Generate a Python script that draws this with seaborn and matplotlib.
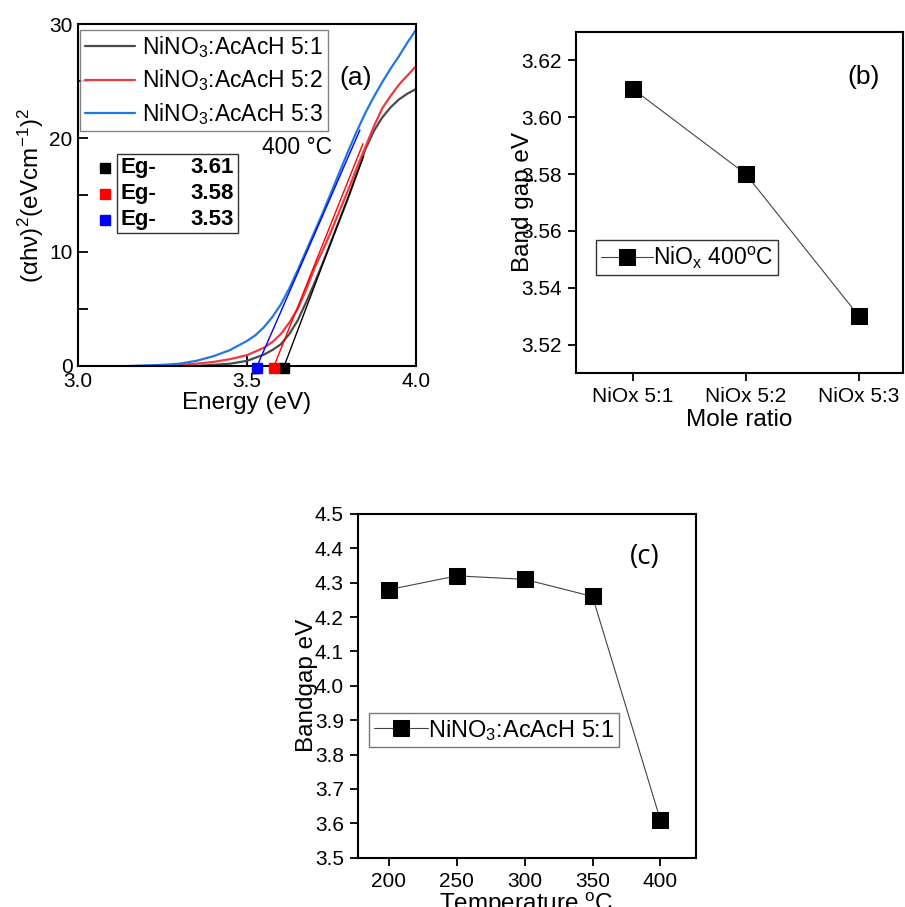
import matplotlib
matplotlib.use('Agg')
import matplotlib.pyplot as plt
import pandas as pd
import seaborn as sns
from matplotlib.patches import Rectangle
from matplotlib.ticker import MultipleLocator, FormatStrFormatter

# ---- (a) Tauc plot, 400 C films
energy_51 = [3.35, 3.40, 3.45, 3.50, 3.55, 3.575, 3.60, 3.625, 3.65, 3.675, 3.70, 3.725, 3.75,
             3.775, 3.80, 3.825, 3.85, 3.875, 3.90, 3.925, 3.95, 3.975, 4.00]
tauc_51 = [0.0, 0.1, 0.2, 0.45, 1.0, 1.4, 1.9, 2.8, 4.0, 5.6, 7.3, 9.1, 11.0,
           12.9, 14.8, 16.9, 19.0, 20.6, 21.8, 22.7, 23.4, 23.9, 24.3]
energy_52 = [3.25, 3.30, 3.35, 3.40, 3.45, 3.50, 3.55, 3.575, 3.60, 3.625, 3.65, 3.675, 3.70,
             3.725, 3.75, 3.775, 3.80, 3.825, 3.85, 3.875, 3.90, 3.925, 3.95, 3.975, 4.00]
tauc_52 = [0.0, 0.1, 0.2, 0.35, 0.6, 0.95, 1.6, 2.1, 2.8, 3.8, 5.0, 6.7, 8.6,
           10.2, 11.9, 13.7, 15.5, 17.4, 19.2, 21.0, 22.6, 23.7, 24.7, 25.5, 26.3]
energy_53 = [3.15, 3.20, 3.25, 3.30, 3.35, 3.40, 3.45, 3.50, 3.525, 3.55, 3.575, 3.60, 3.625,
             3.65, 3.675, 3.70, 3.725, 3.75, 3.775, 3.80, 3.825, 3.85, 3.875, 3.90, 3.925,
             3.95, 3.975, 4.00]
tauc_53 = [0.0, 0.05, 0.1, 0.2, 0.45, 0.85, 1.4, 2.2, 2.7, 3.4, 4.3, 5.4, 6.8,
           8.4, 10.1, 11.8, 13.5, 15.3, 17.1, 18.9, 20.6, 22.2, 23.6, 24.9, 26.1,
           27.2, 28.4, 29.5]
series_labels = ['NiNO$_3$:AcAcH 5:1', 'NiNO$_3$:AcAcH 5:2', 'NiNO$_3$:AcAcH 5:3']
curve_colors = ['#4a4a4a', '#ee3a3e', '#1f78e4']

# linear fits: start at Eg on the axis, end point
eg_values = [3.61, 3.58, 3.53]
fit_end_x = [3.845, 3.843, 3.834]
fit_end_y = [18.4, 19.5, 20.7]
fit_colors = ['black', 'red', 'blue']

# ---- (b) band gap vs mole ratio
mole_ratio = ['NiOx 5:1', 'NiOx 5:2', 'NiOx 5:3']
bandgap_b = [3.61, 3.58, 3.53]

# ---- (c) band gap vs annealing temperature
temperature = [200, 250, 300, 350, 400]
bandgap_c = [4.28, 4.32, 4.31, 4.26, 3.61]

sns.set_theme(style='ticks')
plt.rcParams['font.family'] = ['Liberation Sans', 'DejaVu Sans']
plt.rcParams['mathtext.default'] = 'regular'
plt.rcParams['axes.linewidth'] = 1.5
plt.rcParams['axes.edgecolor'] = 'black'
plt.rcParams['text.color'] = 'black'
plt.rcParams['axes.labelcolor'] = 'black'
plt.rcParams['xtick.color'] = 'black'
plt.rcParams['ytick.color'] = 'black'

TICK = 15
LAB = 17.5
LEG = 16.5

fig = plt.figure(figsize=(9.05, 9.07), dpi=100)
ax_a = fig.add_axes([0.0862, 0.5965, 0.3735, 0.377])
ax_b = fig.add_axes([0.6365, 0.5888, 0.3613, 0.376])
ax_c = fig.add_axes([0.3952, 0.0543, 0.3735, 0.379])

# ---------- panel a
df_a = pd.concat([
    pd.DataFrame({'energy': energy_51, 'tauc': tauc_51, 'sample': series_labels[0]}),
    pd.DataFrame({'energy': energy_52, 'tauc': tauc_52, 'sample': series_labels[1]}),
    pd.DataFrame({'energy': energy_53, 'tauc': tauc_53, 'sample': series_labels[2]}),
])
sns.lineplot(data=df_a, x='energy', y='tauc', hue='sample', palette=curve_colors,
             linewidth=1.6, ax=ax_a, sort=False)
for eg, xe, ye, c in zip(eg_values, fit_end_x, fit_end_y, fit_colors):
    ax_a.plot([eg, xe], [0, ye], color=c, lw=1.0)
    ax_a.plot([eg], [-0.15], 's', color=c, ms=6.5, clip_on=False, zorder=5)

ax_a.set_xlim(3.0, 4.0)
ax_a.set_ylim(0, 30)
ax_a.set_xticks([3.0, 3.5, 4.0])
ax_a.set_yticks([0, 10, 20, 30])
ax_a.yaxis.set_minor_locator(MultipleLocator(5))
ax_a.tick_params(direction='in', length=7, width=1.3, labelsize=TICK, pad=4)
ax_a.tick_params(which='minor', direction='in', length=7, width=1.3, left=True)
ax_a.set_xlabel('Energy (eV)', fontsize=LAB, labelpad=1)
ax_a.set_ylabel('(αhν)$^2$(eVcm$^{-1}$)$^2$', fontsize=LAB, labelpad=2)
for s in ax_a.spines.values():
    s.set_visible(True)

leg = ax_a.legend(loc='upper left', bbox_to_anchor=(0.0, 0.99), borderaxespad=0.1,
                  fontsize=LEG, frameon=True, fancybox=False, handlelength=2.2,
                  handletextpad=0.3, labelspacing=0.32, borderpad=0.2)
leg.get_frame().set_edgecolor('#666666')
leg.get_frame().set_linewidth(1.0)
for ln in leg.get_lines():
    ln.set_linewidth(1.6)

ax_a.text(3.82, 25.3, '(a)', fontsize=19, ha='center', va='center')
ax_a.text(3.544, 19.2, '400 °C', fontsize=16.5, ha='left', va='center')

# Eg box
ax_a.add_patch(Rectangle((0.115, 0.389), 0.358, 0.231, transform=ax_a.transAxes,
                         fill=False, edgecolor='#333333', lw=1.0))
for i, (eg, c) in enumerate(zip(eg_values, fit_colors)):
    yy = 0.579 - 0.076 * i
    ax_a.plot([0.080], [yy], 's', color=c, ms=6.5, transform=ax_a.transAxes, clip_on=False)
    ax_a.text(0.126, yy, 'Eg-', transform=ax_a.transAxes, fontsize=16,
              fontweight='bold', va='center', ha='left')
    ax_a.text(0.460, yy, f'{eg:.2f}', transform=ax_a.transAxes, fontsize=16,
              fontweight='bold', va='center', ha='right')

# ---------- panel b
sns.lineplot(x=mole_ratio, y=bandgap_b, ax=ax_b, color='#444444', lw=0.8,
             marker='s', markersize=12, markerfacecolor='black', markeredgecolor='black',
             label='NiO$_x$ 400$^o$C', sort=False)
ax_b.set_xlim(-0.5, 2.39)
ax_b.set_ylim(3.51, 3.63)
ax_b.set_yticks([3.52, 3.54, 3.56, 3.58, 3.60, 3.62])
ax_b.yaxis.set_major_formatter(FormatStrFormatter('%.2f'))
ax_b.tick_params(direction='out', length=6, width=1.3, labelsize=TICK, pad=4)
ax_b.set_xlabel('Mole ratio', fontsize=LAB, labelpad=2)
ax_b.set_ylabel('Band gap eV', fontsize=LAB)
ax_b.yaxis.set_label_coords(-0.13, 0.5)
for s in ax_b.spines.values():
    s.set_visible(True)
ax_b.text(2.04, 3.614, '(b)', fontsize=19, ha='center', va='center')
leg_b = ax_b.legend(loc='upper left', bbox_to_anchor=(0.061, 0.39), borderaxespad=0,
                    fontsize=LEG, fancybox=False, handlelength=2.3, handletextpad=0.0,
                    borderpad=0.2)
leg_b.get_frame().set_edgecolor('black')
leg_b.get_frame().set_linewidth(1.0)

# ---------- panel c
sns.lineplot(x=temperature, y=bandgap_c, ax=ax_c, color='#444444', lw=0.8,
             marker='s', markersize=12, markerfacecolor='black', markeredgecolor='black',
             label='NiNO$_3$:AcAcH 5:1', sort=False)
ax_c.set_xlim(177, 426)
ax_c.set_ylim(3.5, 4.5)
ax_c.set_xticks(temperature)
ax_c.set_yticks([3.5, 3.6, 3.7, 3.8, 3.9, 4.0, 4.1, 4.2, 4.3, 4.4, 4.5])
ax_c.yaxis.set_major_formatter(FormatStrFormatter('%.1f'))
ax_c.tick_params(direction='out', length=6, width=1.3, labelsize=TICK, pad=4)
ax_c.set_xlabel('Temperature $^o$C', fontsize=LAB, labelpad=0)
ax_c.set_ylabel('Bandgap eV', fontsize=LAB)
ax_c.yaxis.set_label_coords(-0.117, 0.5)
for s in ax_c.spines.values():
    s.set_visible(True)
ax_c.text(388.5, 4.375, '(c)', fontsize=20, ha='center', va='center', family='Open Sans')
leg_c = ax_c.legend(loc='upper left', bbox_to_anchor=(0.033, 0.421), borderaxespad=0,
                    fontsize=17, fancybox=False, handlelength=2.3, handletextpad=0.0,
                    borderpad=0.2)
leg_c.get_frame().set_edgecolor('#555555')
leg_c.get_frame().set_linewidth(1.0)

fig.savefig('out.png', dpi=100, facecolor='white')
